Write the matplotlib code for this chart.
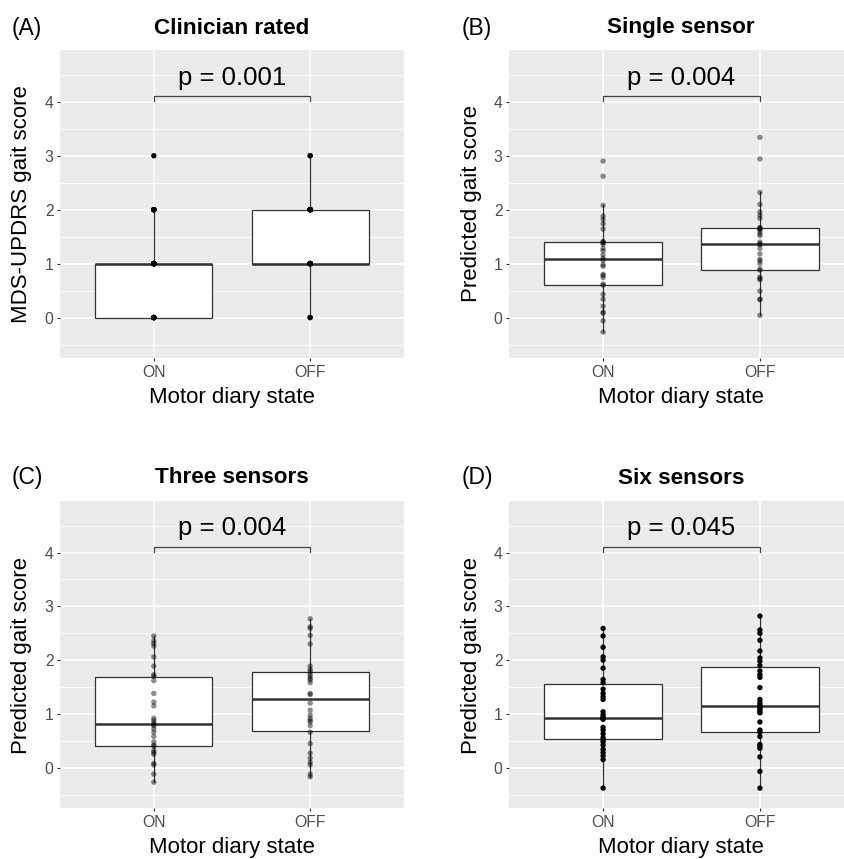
import matplotlib
matplotlib.use("Agg")
import matplotlib.pyplot as plt
import numpy as np

plt.rcParams['font.family'] = ['Liberation Sans', 'DejaVu Sans']

# ---------------- data ----------------
categories = ["ON", "OFF"]
panel_letters = ["(A)", "(B)", "(C)", "(D)"]
panel_titles = ["Clinician rated", "Single sensor", "Three sensors", "Six sensors"]
y_labels = ["MDS-UPDRS gait score", "Predicted gait score",
            "Predicted gait score", "Predicted gait score"]
x_label = "Motor diary state"
p_values = ["p = 0.001", "p = 0.004", "p = 0.004", "p = 0.045"]
y_ticks = [0, 1, 2, 3, 4]

clin_on = [0]*9 + [1]*14 + [2]*6 + [3]*1
clin_off = [0]*2 + [1]*14 + [2]*12 + [3]*2

single_on = [-0.27, -0.06, 0.08, 0.10, 0.21, 0.34, 0.43, 0.60, 0.62, 0.74,
             0.78, 0.80, 0.95, 0.98, 1.06, 1.10, 1.16, 1.24, 1.28, 1.36,
             1.38, 1.40, 1.41, 1.64, 1.74, 1.82, 1.88, 2.08, 2.62, 2.90]
single_off = [0.04, 0.33, 0.34, 0.49, 0.70, 0.72, 0.75, 0.88, 0.90, 1.00,
              1.05, 1.08, 1.18, 1.28, 1.35, 1.37, 1.40, 1.52, 1.55, 1.60,
              1.63, 1.65, 1.66, 1.67, 1.84, 1.90, 1.96, 2.10, 2.32, 2.94, 3.34]

three_on = [-0.27, -0.12, 0.05, 0.08, 0.25, 0.28, 0.32, 0.40, 0.42, 0.48,
            0.58, 0.66, 0.72, 0.78, 0.80, 0.84, 0.88, 0.92, 1.15, 1.22,
            1.38, 1.62, 1.70, 1.73, 1.89, 2.06, 2.26, 2.31, 2.36, 2.45]
three_off = [-0.17, -0.12, 0.05, 0.10, 0.18, 0.27, 0.45, 0.66, 0.78, 0.85,
             0.88, 0.92, 0.98, 1.07, 1.20, 1.36, 1.38, 1.58, 1.63, 1.66,
             1.70, 1.74, 1.79, 1.83, 1.89, 2.30, 2.46, 2.59, 2.62, 2.77]

six_on = [-0.38, 0.15, 0.22, 0.28, 0.34, 0.42, 0.48, 0.52, 0.56, 0.63,
          0.70, 0.75, 0.90, 0.92, 0.92, 0.94, 0.98, 1.04, 1.27, 1.32,
          1.38, 1.46, 1.58, 1.64, 1.85, 2.00, 2.06, 2.24, 2.45, 2.59]
six_off = [-0.38, -0.07, 0.20, 0.36, 0.40, 0.43, 0.58, 0.66, 0.70, 0.85,
           1.02, 1.04, 1.08, 1.11, 1.13, 1.17, 1.21, 1.27, 1.49, 1.68,
           1.73, 1.80, 1.90, 1.98, 2.04, 2.17, 2.37, 2.50, 2.56, 2.82]

panels_data = [(clin_on, clin_off), (single_on, single_off),
               (three_on, three_off), (six_on, six_off)]
point_alpha = [1.0, 0.45, 0.45, 1.0]

# ---------------- layout ----------------
W, H = 845, 859
fig = plt.figure(figsize=(W/100, H/100), dpi=100)

# axes boxes in pixels: (left, top, width, height)
boxes = [(60, 50, 344, 308), (509, 50, 345, 308),
         (60, 501, 344, 307), (509, 501, 345, 307)]
letter_pos = [(12, 28), (462, 28), (12, 478), (462, 478)]
title_y = [28, 28, 478, 479]
ylab_x = [22, 472, 22, 472]
xlab_y = [398, 398, 847, 847]

def fx(px):
    return px / W

def fy(py):
    return 1 - py / H

BG = "#EBEBEB"
EDGE = "#333333"

for i in range(4):
    l, t, w, h = boxes[i]
    ax = fig.add_axes([fx(l), fy(t + h), w / W, h / H])
    ax.set_facecolor(BG)
    for s in ax.spines.values():
        s.set_visible(False)
    ax.set_xlim(0.4, 2.6)
    ax.set_ylim(-0.75, 4.96)

    # grid
    for yv in np.arange(-0.5, 5.0, 1.0):
        ax.axhline(yv, color="white", lw=0.6, zorder=0.5)
    for yv in y_ticks:
        ax.axhline(yv, color="white", lw=1.2, zorder=0.6)
    for xv in [1, 2]:
        ax.axvline(xv, color="white", lw=1.2, zorder=0.6)

    on, off = panels_data[i]
    bp = ax.boxplot([on, off], positions=[1, 2], widths=0.75, whis=1.5,
                    showfliers=False, showcaps=False, patch_artist=True,
                    boxprops=dict(facecolor="white", edgecolor=EDGE, lw=0.9),
                    whiskerprops=dict(color=EDGE, lw=0.9),
                    medianprops=dict(color=EDGE, lw=1.8),
                    zorder=2)

    for k, vals in enumerate([on, off]):
        ax.scatter(np.full(len(vals), k + 1), vals, s=15, color="black",
                   alpha=point_alpha[i], edgecolors="none", zorder=3)

    # significance bracket
    ax.plot([1, 1, 2, 2], [4.02, 4.1, 4.1, 4.02], color="#444444", lw=0.9,
            zorder=4, solid_joinstyle="miter")
    ax.text(1.5, 4.32, p_values[i], ha="center", va="baseline",
            fontsize=18.5, color="black", zorder=5)

    ax.set_xticks([1, 2])
    ax.set_xticklabels(categories)
    ax.set_yticks(y_ticks)
    ax.set_yticklabels([str(v) for v in y_ticks])
    ax.tick_params(axis="both", length=2.2, width=0.8, color=EDGE,
                   labelcolor="#4D4D4D", labelsize=11.3, pad=2.5)

    fig.text(fx(letter_pos[i][0]), fy(letter_pos[i][1]), panel_letters[i],
             ha="left", va="center", fontsize=16.5, color="black")
    fig.text(fx(l + 172), fy(title_y[i]), panel_titles[i], ha="center",
             va="center", fontsize=16.2, fontweight="bold", color="black")
    fig.text(fx(ylab_x[i]), fy(t + 154), y_labels[i], ha="center",
             va="center", rotation=90, fontsize=16, color="black")
    fig.text(fx(l + 172), fy(xlab_y[i]), x_label, ha="center",
             va="center", fontsize=16, color="black")

fig.savefig("out.png", dpi=100, facecolor="white")
